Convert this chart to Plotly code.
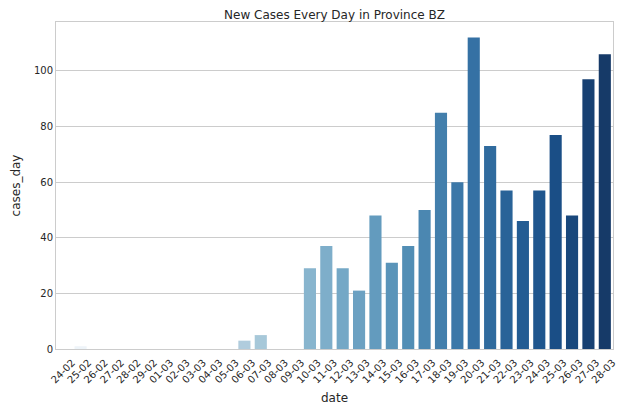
import colorsys
import plotly.graph_objects as go
from plotly.colors import sample_colorscale, unlabel_rgb

dates = ["24-02", "25-02", "26-02", "27-02", "28-02", "29-02", "01-03", "02-03",
         "03-03", "04-03", "05-03", "06-03", "07-03", "08-03", "09-03", "10-03",
         "11-03", "12-03", "13-03", "14-03", "15-03", "16-03", "17-03", "18-03",
         "19-03", "20-03", "21-03", "22-03", "23-03", "24-03", "25-03", "26-03",
         "27-03", "28-03"]
cases_day = [0, 1, 0, 0, 0, 0, 0, 0,
             0, 0, 0, 3, 5, 0, 0, 29,
             37, 29, 21, 48, 31, 37, 50, 85,
             60, 112, 73, 57, 46, 57, 77, 48,
             97, 106]

n = len(dates)
positions = [(i + 1) / (n + 1) for i in range(n)]
raw = sample_colorscale("Blues", positions)


def desat(c, prop=0.75):
    r, g, b = [v / 255 for v in unlabel_rgb(c)]
    h, l, s = colorsys.rgb_to_hls(r, g, b)
    r, g, b = colorsys.hls_to_rgb(h, l, s * prop)
    return "rgb(%d,%d,%d)" % (round(r * 255), round(g * 255), round(b * 255))


colors = [desat(c) for c in raw]

fig = go.Figure(go.Bar(x=dates, y=cases_day, marker=dict(color=colors, line=dict(width=0))))

font_family = "DejaVu Sans, Liberation Sans, sans-serif"
fig.update_layout(
    width=626, height=412,
    margin=dict(l=56, r=13, t=22, b=63, autoexpand=False),
    paper_bgcolor="white", plot_bgcolor="white",
    bargap=0.26,
    font=dict(family=font_family, size=11, color="#262626"),
    title=dict(text="New Cases Every Day in Province BZ", x=0.5, xref="paper",
               xanchor="center", y=1, yref="paper", yanchor="bottom",
               pad=dict(b=3), font=dict(size=12, color="#262626")),
    showlegend=False,
)
fig.update_xaxes(
    type="category", tickangle=-45, showgrid=False, ticks="",
    showline=True, linecolor="#cccccc", linewidth=1, mirror=True,
    tickfont=dict(size=10, color="#262626"),
    ticklabelshift=8, ticklabelstandoff=3, automargin=False,
    title=dict(text="date", font=dict(size=12, color="#262626"), standoff=9),
)
fig.update_yaxes(
    range=[0, 117.6], tickvals=[0, 20, 40, 60, 80, 100], showgrid=True,
    gridcolor="#cccccc", gridwidth=1, zeroline=False, ticks="",
    showline=True, linecolor="#cccccc", linewidth=1, mirror=True,
    tickfont=dict(size=10, color="#262626"), automargin=False,
    title=dict(text="cases_day", font=dict(size=12, color="#262626"), standoff=10),
)

fig.write_html("out.html")
